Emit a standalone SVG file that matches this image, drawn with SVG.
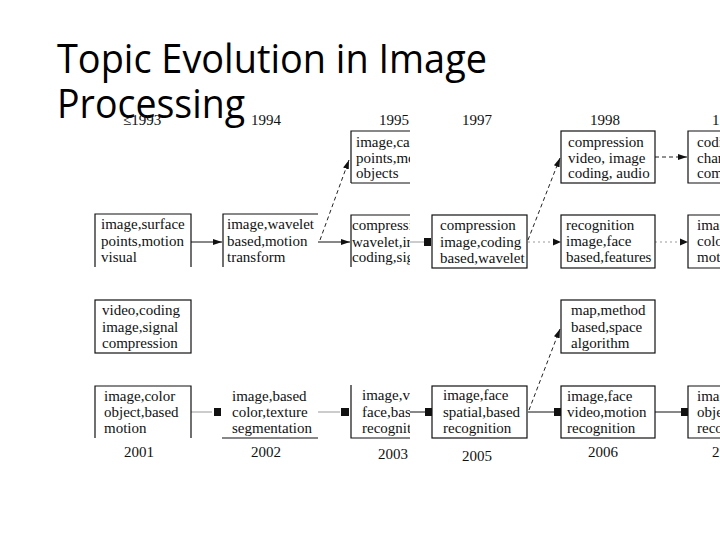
<svg xmlns="http://www.w3.org/2000/svg" width="720" height="540" viewBox="0 0 720 540">
<style>
.t{font-family:"Liberation Serif","Times New Roman",serif;font-size:15px;fill:#111}
.y{font-family:"Liberation Serif","Times New Roman",serif;font-size:15px;fill:#111}
.b{fill:none;stroke:#111;stroke-width:1.2}
.c{fill:none;stroke:#111;stroke-width:1}
.f{fill:none;stroke:#999;stroke-width:1}
.d{fill:none;stroke:#222;stroke-width:1;stroke-dasharray:4 3}
.title{font-family:"Open Sans","Liberation Sans",sans-serif;font-size:41px;fill:#000}
</style>
<defs>
<marker id="arr" markerWidth="10" markerHeight="8" refX="9" refY="4" orient="auto" markerUnits="userSpaceOnUse"><path d="M0,1 L9,4 L0,7 Z" fill="#111"/></marker>
<clipPath id="c1995"><rect x="340" y="120" width="70" height="360"/></clipPath>
</defs>
<rect width="720" height="540" fill="#fff"/>
<text class="title" x="57" y="73" textLength="430" lengthAdjust="spacingAndGlyphs">Topic Evolution in Image</text>
<text class="title" x="57" y="118" textLength="188" lengthAdjust="spacingAndGlyphs">Processing</text>
<g id="years">
<text class="y" x="123" y="125">≤1993</text>
<text class="y" x="251" y="125">1994</text>
<text class="y" x="379" y="125">1995</text>
<text class="y" x="462" y="125">1997</text>
<text class="y" x="590" y="125">1998</text>
<text class="y" x="712" y="125">1</text>
<text class="y" x="124" y="457">2001</text>
<text class="y" x="251" y="457">2002</text>
<text class="y" x="378" y="459">2003</text>
<text class="y" x="462" y="461">2005</text>
<text class="y" x="588" y="457">2006</text>
<text class="y" x="712" y="457">2</text>
</g>
<g id="connectors">
<line class="c" x1="191" y1="242" x2="222" y2="242" marker-end="url(#arr)"/>
<line class="c" x1="318" y1="242" x2="350" y2="242" marker-end="url(#arr)"/>
<line class="d" x1="320" y1="240" x2="349" y2="160" marker-end="url(#arr)"/>
<line class="f" x1="410" y1="242" x2="425" y2="242"/>
<rect x="424" y="238" width="7" height="8" fill="#111"/>
<line class="d" x1="528" y1="240" x2="560" y2="158" marker-end="url(#arr)"/>
<line class="f" x1="528" y1="242" x2="558" y2="242" stroke-dasharray="2 3"/>
<path d="M553,238.5 L561,242 L553,245.5 Z" fill="#111"/>
<line class="d" x1="655" y1="157" x2="687" y2="157" marker-end="url(#arr)"/>
<line class="f" x1="655" y1="242" x2="680" y2="242" stroke-dasharray="2 3"/>
<path d="M680,238.5 L688,242 L680,245.5 Z" fill="#111"/>
<line class="f" x1="191" y1="412" x2="212" y2="412"/>
<rect x="214" y="408" width="7" height="8" fill="#111"/>
<line class="f" x1="318" y1="412" x2="340" y2="412"/>
<rect x="341" y="408" width="8" height="8" fill="#111"/>
<line class="c" x1="410" y1="412" x2="426" y2="412"/>
<rect x="425" y="408" width="7" height="8" fill="#111"/>
<line class="c" x1="528" y1="412" x2="555" y2="412"/>
<rect x="554" y="408" width="7" height="8" fill="#111"/>
<line class="c" x1="655" y1="412" x2="682" y2="412"/>
<rect x="681" y="408" width="7" height="8" fill="#111"/>
<line class="d" x1="529" y1="410" x2="560" y2="329" marker-end="url(#arr)" stroke-dasharray="3 3"/>
</g>
<g id="n1993">
<path class="b" d="M95,267 V214 H191 V267"/>
<text class="t" x="101" y="229">image,surface</text>
<text class="t" x="101" y="246">points,motion</text>
<text class="t" x="101" y="262">visual</text>
</g>
<g id="n1994">
<path class="b" d="M223,267 V214 H318"/>
<text class="t" x="227" y="229">image,wavelet</text>
<text class="t" x="227" y="246">based,motion</text>
<text class="t" x="227" y="262">transform</text>
</g>
<g id="n1995a" clip-path="url(#c1995)">
<path class="b" d="M351,183 V131 H410 M351,183 H410"/>
<text class="t" x="356" y="147">image,camera</text>
<text class="t" x="356" y="163">points,model</text>
<text class="t" x="356" y="178">objects</text>
</g>
<g id="n1995b" clip-path="url(#c1995)">
<path class="b" d="M351,267 V215 H410"/>
<text class="t" x="352" y="230">compression</text>
<text class="t" x="352" y="247">wavelet,image</text>
<text class="t" x="352" y="262">coding,signal</text>
</g>
<g id="n1997">
<rect class="b" x="432" y="215" width="95" height="53"/>
<text class="t" x="440" y="230">compression</text>
<text class="t" x="440" y="247">image,coding</text>
<text class="t" x="440" y="263">based,wavelet</text>
</g>
<g id="n1998a">
<rect class="b" x="561" y="131" width="94" height="52"/>
<text class="t" x="568" y="147">compression</text>
<text class="t" x="568" y="163">video, image</text>
<text class="t" x="568" y="178">coding, audio</text>
</g>
<g id="n1998b">
<rect class="b" x="561" y="215" width="94" height="53"/>
<text class="t" x="566" y="230">recognition</text>
<text class="t" x="566" y="246">image,face</text>
<text class="t" x="566" y="262">based,features</text>
</g>
<g id="n1999a">
<path class="b" d="M720,131 H688 V183 H720"/>
<text class="t" x="697" y="147">coding</text>
<text class="t" x="697" y="163">channel</text>
<text class="t" x="697" y="178">compression</text>
</g>
<g id="n1999b">
<path class="b" d="M720,215 H688 V268 H720"/>
<text class="t" x="697" y="230">image</text>
<text class="t" x="697" y="246">color</text>
<text class="t" x="697" y="262">motion</text>
</g>
<g id="nvideo">
<rect class="b" x="95" y="300" width="96" height="53"/>
<text class="t" x="102" y="315">video,coding</text>
<text class="t" x="102" y="332">image,signal</text>
<text class="t" x="102" y="348">compression</text>
</g>
<g id="nmap">
<rect class="b" x="561" y="300" width="94" height="53"/>
<text class="t" x="571" y="315">map,method</text>
<text class="t" x="571" y="332">based,space</text>
<text class="t" x="571" y="348">algorithm</text>
</g>
<g id="n2001">
<path class="b" d="M95,438 V386 H191 V438"/>
<text class="t" x="104" y="401">image,color</text>
<text class="t" x="104" y="417">object,based</text>
<text class="t" x="104" y="433">motion</text>
</g>
<g id="n2002">
<path class="b" d="M222,438 H318"/>
<text class="t" x="232" y="401">image,based</text>
<text class="t" x="232" y="417">color,texture</text>
<text class="t" x="232" y="433">segmentation</text>
</g>
<g id="n2003" clip-path="url(#c1995)">
<path class="b" d="M351,385 V438 H410"/>
<text class="t" x="362" y="400">image,video</text>
<text class="t" x="362" y="417">face,based</text>
<text class="t" x="362" y="433">recognition</text>
</g>
<g id="n2005">
<rect class="b" x="432" y="386" width="95" height="52"/>
<text class="t" x="443" y="400">image,face</text>
<text class="t" x="443" y="417">spatial,based</text>
<text class="t" x="443" y="433">recognition</text>
</g>
<g id="n2006">
<rect class="b" x="561" y="386" width="94" height="52"/>
<text class="t" x="567" y="401">image,face</text>
<text class="t" x="567" y="417">video,motion</text>
<text class="t" x="567" y="433">recognition</text>
</g>
<g id="n2007">
<path class="b" d="M720,386 H688 V438 H720"/>
<text class="t" x="697" y="401">image</text>
<text class="t" x="697" y="417">object</text>
<text class="t" x="697" y="433">recognition</text>
</g>
</svg>
